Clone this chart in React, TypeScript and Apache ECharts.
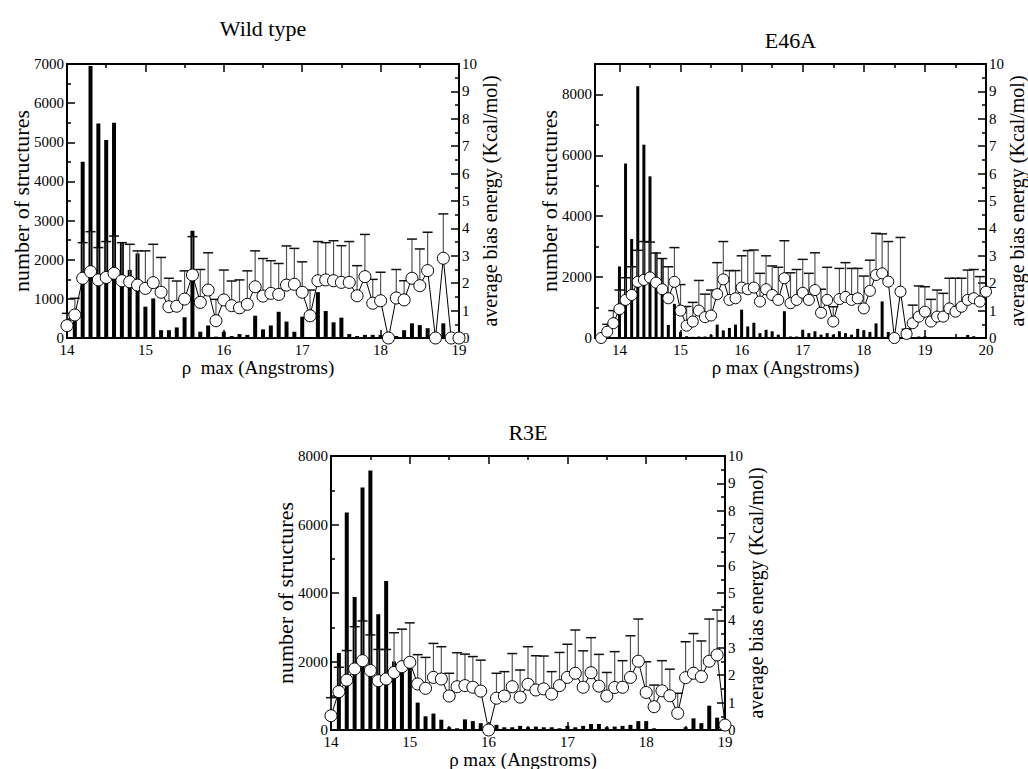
import React, { useEffect, useRef } from "react";
import * as echarts from "echarts";

const FONT = "'Liberation Serif', 'Times New Roman', serif";

// Histogram bins are 0.1 Å wide; each list below starts at its first bin.
const BIN = 0.1;
const bins = (first: number, n: number) =>
  Array.from({ length: n }, (_, i) => Math.round((first + i * BIN) * 10) / 10);

// ---------- Wild type (rho 14.0 .. 19.0) ----------
const wtRho = bins(14.0, 51);
const wtCount = [
  0, 700, 4500, 6950, 5480, 5060, 5500, 2440, 1740, 2160,
  800, 1010, 200, 200, 270, 530, 2740, 160, 320, 35,
  160, 50, 100, 80, 570, 220, 320, 670, 420, 160,
  545, 20, 1170, 690, 400, 520, 100, 50, 80, 80,
  80, 35, 50, 200, 375, 330, 250, 80, 375, 30,
  0,
];
const wtEnergy = [
  0.45, 0.84, 2.18, 2.42, 2.12, 2.21, 2.36, 2.09, 2.05, 1.93,
  1.81, 2.02, 1.67, 1.14, 1.16, 1.42, 2.3, 1.3, 1.75, 0.63,
  1.39, 1.18, 1.1, 1.23, 1.87, 1.53, 1.63, 1.59, 1.93, 1.96,
  1.67, 0.81, 2.09, 2.12, 2.09, 2.03, 2.03, 1.54, 2.24, 1.27,
  1.36, 0, 1.46, 1.39, 2.18, 1.91, 2.46, 0, 2.91, 0,
  0,
];
const wtEnergyUpper = [
  0.9, 1.45, 3.48, 3.88, 3.3, 3.52, 3.72, 3.48, 3.42, 3.18,
  3.18, 3.42, 2.94, 2.18, 2.08, 2.45, 3.7, 2.5, 3.11, 1.41,
  2.48, 2.08, 2.12, 2.45, 3.18, 2.9, 2.82, 2.72, 3.36, 3.27,
  2.78, 1.75, 3.52, 3.48, 3.55, 3.37, 3.52, 2.64, 3.78, 2.14,
  2.4, null, 2.5, 2.09, 3.61, 3.25, 3.86, null, 4.53, null,
  null,
];

// ---------- E46A (rho 13.7 .. 20.0) ----------
const e46Rho = bins(13.7, 64);
const e46Count = [
  0, 0, 0,
  2350, 5730, 3250, 8270, 6350, 5310, 2820, 2620, 430, 1120,
  200, 60, 40, 50, 50, 100, 440, 250, 330, 440,
  930, 380, 500, 160, 270, 220, 110, 880, 50, 50,
  270, 160, 220, 110, 160, 110, 220, 160, 110, 300,
  250, 200, 480, 1200, 200, 60, 20, 0, 20, 50,
  60, 0, 30, 20, 0, 20, 30, 100, 60, 20,
  0,
];
const e46Energy = [
  0, 0.23, 0.54,
  1.05, 1.39, 1.57, 2.05, 2.12, 2.21, 2.02, 1.78, 1.45, 2.05,
  1.0, 0.45, 0.6, 1.0, 0.76, 0.82, 1.6, 2.14, 1.39, 1.45,
  1.84, 1.78, 1.84, 1.33, 1.78, 1.57, 1.39, 2.18, 1.27, 1.39,
  1.65, 1.39, 1.75, 0.92, 1.39, 0.6, 1.42, 1.5, 1.39, 1.45,
  1.08, 1.72, 2.3, 2.36, 2.06, 0, 1.69, 0.15, 0.54, 0.78,
  0.96, 0.6, 0.78, 0.78, 1.08, 0.96, 1.14, 1.39, 1.45, 1.33,
  1.69,
];
const e46EnergyUpper = [
  null, 0.5, 1.0,
  1.75, 2.2, 2.6, 3.2, 3.52, 3.5, 3.1, 2.9, 2.6, 3.3,
  1.95, 1.15, 1.3, 2.1, 1.6, 1.75, 2.75, 3.52, 2.46, 2.46,
  3.0, 3.19, 3.21, 2.36, 3.0, 2.63, 2.58, 3.55, 2.38, 2.5,
  2.87, 2.36, 3.11, 1.78, 2.58, 1.14, 2.54, 2.75, 2.54, 2.54,
  2.26, 2.84, 3.82, 3.8, 3.52, null, 3.67, 0.32, 1.2, 1.9,
  1.87, 1.41, 1.75, 1.63, 2.18, 2.18, 2.18, 2.48, 2.5, 2.24,
  null,
];

// ---------- R3E (rho 14.0 .. 19.0) ----------
const r3eRho = bins(14.0, 51);
const r3eCount = [
  0, 2250, 6350, 3880, 7080, 7580, 3380, 4350, 2000, 1900,
  1950, 800, 400, 480, 300, 80, 50, 310, 260, 200,
  80, 150, 80, 80, 120, 80, 100, 80, 80, 50,
  120, 80, 120, 175, 175, 80, 100, 120, 150, 260,
  260, 50, 30, 30, 30, 80, 340, 200, 710, 360,
  150,
];
const r3eEnergy = [
  0.52, 1.4, 1.82, 2.23, 2.53, 2.17, 1.8, 1.86, 2.1, 2.31,
  2.47, 1.68, 1.52, 1.92, 1.86, 1.24, 1.58, 1.62, 1.56, 1.42,
  0, 1.16, 1.24, 1.58, 1.2, 1.67, 1.46, 1.5, 1.31, 1.62,
  1.92, 2.07, 1.56, 2.09, 1.6, 1.24, 1.55, 1.56, 1.92, 2.51,
  1.37, 0.85, 1.43, 1.25, 0.61, 1.91, 2.07, 1.95, 2.51, 2.74,
  0.18,
];
const r3eEnergyUpper = [
  1.18, 2.29, 2.9, 3.77, 3.98, 3.47, 2.94, 2.94, 3.55, 3.68,
  3.91, 2.75, 2.65, 3.16, 3.04, 2.07, 2.82, 2.77, 2.68, 2.55,
  null, 2.07, 2.13, 2.79, 2.19, 3.04, 2.71, 2.7, 2.13, 2.83,
  3.13, 3.65, 2.89, 3.37, 2.76, 2.1, 2.86, 2.53, 3.44, 4.05,
  2.49, 1.64, 2.53, 2.22, 1.34, 3.22, 3.52, 3.25, 4.05, 4.38,
  null,
];

// ---------- tick positions ----------
const rhoTicks14to19 = [14, 15, 16, 17, 18, 19];
const rhoMinor14to19 = [14.5, 15.5, 16.5, 17.5, 18.5];
const rhoTicks14to20 = [14, 15, 16, 17, 18, 19, 20];
const rhoMinor14to20 = [14.5, 15.5, 16.5, 17.5, 18.5, 19.5];
const wtCountTicks = [0, 1000, 2000, 3000, 4000, 5000, 6000, 7000];
const wtCountMinor = [500, 1500, 2500, 3500, 4500, 5500, 6500];
const e46CountTicks = [0, 2000, 4000, 6000, 8000];
const e46CountMinor = [1000, 3000, 5000, 7000];
const r3eCountTicks = [0, 2000, 4000, 6000, 8000];
const r3eCountMinor = [1000, 3000, 5000, 7000];
const energyTicks = [0, 1, 2, 3, 4, 5, 6, 7, 8, 9, 10];
const energyMinor = [0.5, 1.5, 2.5, 3.5, 4.5, 5.5, 6.5, 7.5, 8.5, 9.5];

type Panel = {
  title: string;
  titleY: number;
  xTitle: string;
  box: { left: number; top: number; width: number; height: number };
  rhoMin: number;
  rhoMax: number;
  rhoTicks: number[];
  rhoMinor: number[];
  countMax: number;
  countTicks: number[];
  countMinor: number[];
  rho: number[];
  count: number[];
  energy: number[];
  upper: (number | null)[];
  barWidth: number;
  symbolSize: number;
};

const panels: Panel[] = [
  {
    title: "Wild type", titleY: 28, xTitle: "ρ  max (Angstroms)",
    box: { left: 67, top: 64, width: 392, height: 274 },
    rhoMin: 14, rhoMax: 19, rhoTicks: rhoTicks14to19, rhoMinor: rhoMinor14to19,
    countMax: 7000, countTicks: wtCountTicks, countMinor: wtCountMinor,
    rho: wtRho, count: wtCount, energy: wtEnergy, upper: wtEnergyUpper,
    barWidth: 4, symbolSize: 12,
  },
  {
    title: "E46A", titleY: 40, xTitle: "ρ max (Angstroms)",
    box: { left: 595, top: 64, width: 391, height: 274 },
    rhoMin: 13.6, rhoMax: 20, rhoTicks: rhoTicks14to20, rhoMinor: rhoMinor14to20,
    countMax: 9000, countTicks: e46CountTicks, countMinor: e46CountMinor,
    rho: e46Rho, count: e46Count, energy: e46Energy, upper: e46EnergyUpper,
    barWidth: 3, symbolSize: 11,
  },
  {
    title: "R3E", titleY: 432, xTitle: "ρ max (Angstroms)",
    box: { left: 331, top: 456, width: 394, height: 274 },
    rhoMin: 14, rhoMax: 19, rhoTicks: rhoTicks14to19, rhoMinor: rhoMinor14to19,
    countMax: 8000, countTicks: r3eCountTicks, countMinor: r3eCountMinor,
    rho: r3eRho, count: r3eCount, energy: r3eEnergy, upper: r3eEnergyUpper,
    barWidth: 4, symbolSize: 12,
  },
];

const MAJOR_LEN = 8;
const MINOR_LEN = 4;

function frameAxis(
  gridIndex: number,
  position: string,
  min: number,
  max: number,
  ticks: number[],
  labels: number[],
  tickLen: number,
  showLine: boolean
) {
  const vertical = position === "left" || position === "right";
  return {
    type: "value",
    gridIndex,
    position,
    min,
    max,
    axisLine: { show: showLine, onZero: false, lineStyle: { color: "#000", width: 2 } },
    axisTick: {
      show: true,
      inside: true,
      length: tickLen,
      customValues: ticks,
      lineStyle: { color: "#000", width: 1.5 },
    },
    axisLabel: labels.length
      ? {
          show: true,
          customValues: labels,
          formatter: (v: number) => String(v),
          color: "#000",
          fontFamily: FONT,
          fontSize: 15,
          lineHeight: 12,
          margin: vertical ? 3 : 6,
          hideOverlap: false,
        }
      : { show: false },
    splitLine: { show: false },
    minorTick: { show: false },
  };
}

function text(x: number, y: number, str: string, size: number, rotate = false) {
  return {
    type: "text",
    x,
    y,
    rotation: rotate ? Math.PI / 2 : 0,
    silent: true,
    style: {
      text: str,
      fill: "#000",
      fontFamily: FONT,
      fontSize: size,
      textAlign: "center",
      textVerticalAlign: "middle",
      align: "center",
      verticalAlign: "middle",
    },
  };
}

function buildOption() {
  const grid: any[] = [];
  const xAxis: any[] = [];
  const yAxis: any[] = [];
  const series: any[] = [];
  const graphic: any[] = [];

  panels.forEach((p, gi) => {
    const b = p.box;
    grid.push({ left: b.left, top: b.top, width: b.width, height: b.height, containLabel: false });

    const xi = xAxis.length;
    xAxis.push(frameAxis(gi, "bottom", p.rhoMin, p.rhoMax, p.rhoTicks, p.rhoTicks, MAJOR_LEN, true));
    xAxis.push(frameAxis(gi, "bottom", p.rhoMin, p.rhoMax, p.rhoMinor, [], MINOR_LEN, false));
    xAxis.push(frameAxis(gi, "top", p.rhoMin, p.rhoMax, p.rhoTicks, [], MAJOR_LEN, true));
    xAxis.push(frameAxis(gi, "top", p.rhoMin, p.rhoMax, p.rhoMinor, [], MINOR_LEN, false));

    const yi = yAxis.length;
    yAxis.push(frameAxis(gi, "left", 0, p.countMax, p.countTicks, p.countTicks, MAJOR_LEN, true));
    yAxis.push(frameAxis(gi, "left", 0, p.countMax, p.countMinor, [], MINOR_LEN, false));
    yAxis.push(frameAxis(gi, "right", 0, 10, energyTicks, energyTicks, MAJOR_LEN, true));
    yAxis.push(frameAxis(gi, "right", 0, 10, energyMinor, [], MINOR_LEN, false));

    // number of structures per bin
    series.push({
      type: "bar",
      xAxisIndex: xi,
      yAxisIndex: yi,
      barWidth: p.barWidth,
      itemStyle: { color: "#000" },
      data: p.rho.map((r, i) => [r, p.count[i]]),
      z: 2,
    });

    // upper error bars of the average bias energy
    series.push({
      type: "custom",
      xAxisIndex: xi,
      yAxisIndex: yi + 2,
      clip: false,
      z: 3,
      encode: { x: 0, y: [1, 2] },
      data: p.rho
        .map((r, i) => [r, p.energy[i], p.upper[i]])
        .filter((d) => d[2] !== null),
      renderItem: (params: any, api: any) => {
        const lo = api.coord([api.value(0), api.value(1)]);
        const hi = api.coord([api.value(0), api.value(2)]);
        const half = 5;
        return {
          type: "group",
          children: [
            {
              type: "line",
              shape: { x1: lo[0], y1: lo[1], x2: hi[0], y2: hi[1] },
              style: { stroke: "#555", lineWidth: 1.2 },
            },
            {
              type: "line",
              shape: { x1: hi[0] - half, y1: hi[1], x2: hi[0] + half, y2: hi[1] },
              style: { stroke: "#111", lineWidth: 1.5 },
            },
          ],
        };
      },
    });

    // average bias energy
    series.push({
      type: "line",
      xAxisIndex: xi,
      yAxisIndex: yi + 2,
      clip: false,
      z: 4,
      symbol: "circle",
      symbolSize: p.symbolSize,
      showAllSymbol: true,
      lineStyle: { color: "#000", width: 1 },
      itemStyle: { color: "#fff", borderColor: "#000", borderWidth: 1 },
      data: p.rho.map((r, i) => [r, p.energy[i]]),
    });

    const cx = b.left + b.width / 2;
    const cy = b.top + b.height / 2;
    graphic.push(text(cx, p.titleY, p.title, 22));
    graphic.push(text(cx - 5, b.top + b.height + 29, p.xTitle, 19));
    graphic.push(text(b.left - 46, cy, "number of structures", 22, true));
    graphic.push(text(b.left + b.width + 31, cy, "average bias energy (Kcal/mol)", 20, true));
  });

  return {
    animation: false,
    backgroundColor: "#fff",
    textStyle: { fontFamily: FONT },
    grid,
    xAxis,
    yAxis,
    series,
    graphic,
  };
}

export default function App() {
  const ref = useRef<HTMLDivElement>(null);

  useEffect(() => {
    if (!ref.current) return;
    const chart = echarts.init(ref.current, undefined, { renderer: "svg" });
    chart.setOption(buildOption() as any);
    return () => chart.dispose();
  }, []);

  return (
    <div
      ref={ref}
      style={{ position: "absolute", left: 0, top: 0, width: 1028, height: 769, background: "#fff" }}
    />
  );
}
